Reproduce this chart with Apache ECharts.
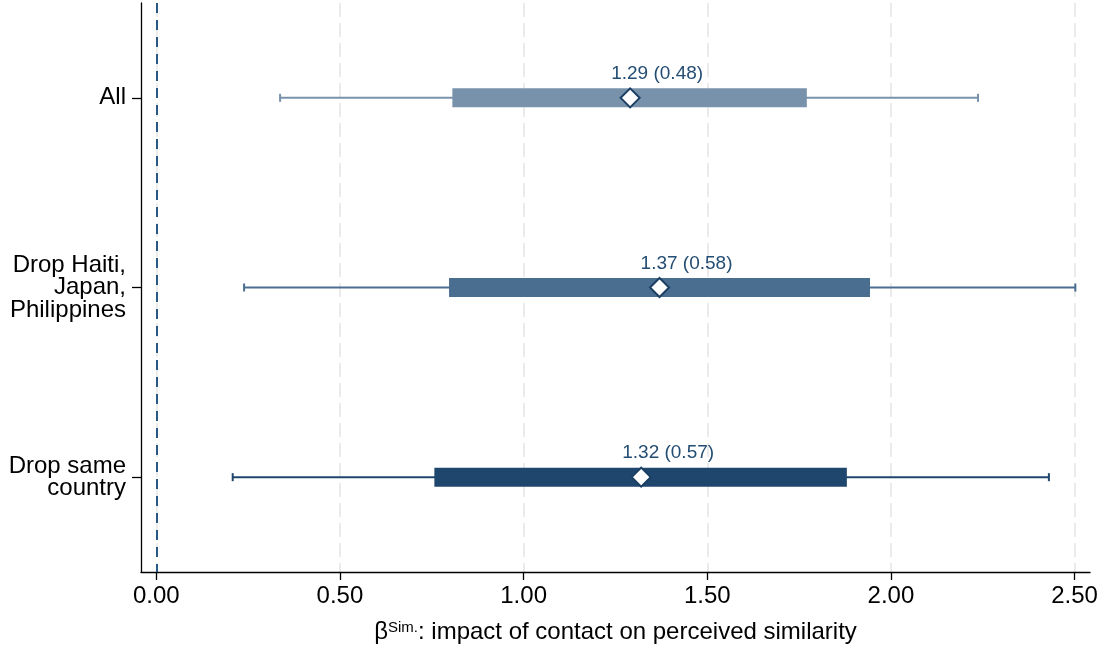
<!DOCTYPE html>
<html>
<head>
<meta charset="utf-8">
<script src="https://cdn.jsdelivr.net/npm/echarts@6/dist/echarts.min.js"></script>
<style>html,body{margin:0;padding:0;background:#fff}#chart{width:1105px;height:646px}</style>
</head>
<body>
<div id="chart"></div>
<script>
// ---- data ----
const categories = ['All', 'Drop Haiti,\nJapan,\nPhilippines', 'Drop same\ncountry'];
const estimates = [1.29, 1.37, 1.32];
const stdErrors = [0.48, 0.58, 0.57];
const boxLow = [0.806, 0.797, 0.757];
const boxHigh = [1.771, 1.943, 1.880];
const whiskerLow = [0.337, 0.239, 0.208];
const whiskerHigh = [2.237, 2.502, 2.430];
const referenceLine = [0];

// ---- styles ----
const rowColors = ['#7892ac', '#4a6e90', '#1f476e'];
const textColor = '#244d73';
const FONT = '"Liberation Sans", Arial, Helvetica, sans-serif';

const chart = echarts.init(document.getElementById('chart'));

const boxData = categories.map((c, i) => [whiskerLow[i], boxLow[i], boxHigh[i], whiskerHigh[i], i]);
const pointData = categories.map((c, i) => [estimates[i], i]);

function renderBox(params, api) {
  const i = api.value(4);
  const col = rowColors[i];
  const pWL = api.coord([api.value(0), i]);
  const pBL = api.coord([api.value(1), i]);
  const pBH = api.coord([api.value(2), i]);
  const pWH = api.coord([api.value(3), i]);
  const y = pWL[1];
  const h = 19, cap = 4;
  return {
    type: 'group',
    children: [
      { type: 'line', shape: { x1: pWL[0], y1: y, x2: pWH[0], y2: y }, style: { stroke: col, lineWidth: 2 } },
      { type: 'line', shape: { x1: pWL[0], y1: y - cap, x2: pWL[0], y2: y + cap }, style: { stroke: col, lineWidth: 2 } },
      { type: 'line', shape: { x1: pWH[0], y1: y - cap, x2: pWH[0], y2: y + cap }, style: { stroke: col, lineWidth: 2 } },
      { type: 'rect', shape: { x: pBL[0], y: y - h / 2, width: pBH[0] - pBL[0], height: h }, style: { fill: col } }
    ]
  };
}

const option = {
  animation: false,
  backgroundColor: '#fff',
  textStyle: { fontFamily: FONT },
  grid: [
    { left: 141, right: 15, top: 3, bottom: 74, containLabel: false, outerBoundsMode: 'none' },
    { left: 156.3, right: 30.4, top: 3, bottom: 74, containLabel: false, outerBoundsMode: 'none' }
  ],
  xAxis: [
    {
      gridIndex: 0, type: 'value', min: -0.042, max: 2.542,
      axisLine: { show: true, onZero: false, lineStyle: { color: '#000', width: 1.3 } },
      axisTick: { show: false }, axisLabel: { show: false }, splitLine: { show: false },
      name: '{b|β}{sup|Sim.}{b|: impact of contact on perceived similarity}',
      nameLocation: 'middle', nameGap: 48,
      nameTextStyle: {
        rich: {
          b: { fontSize: 24, color: '#000', fontFamily: FONT },
          sup: { fontSize: 15, color: '#000', fontFamily: FONT, padding: [0, 0, 10, 0] }
        }
      }
    },
    {
      gridIndex: 1, type: 'value', min: 0, max: 2.5, interval: 0.5,
      axisLine: { show: false, onZero: false },
      axisTick: { show: true, length: 8, lineStyle: { color: '#000', width: 1.3 } },
      axisLabel: { show: true, fontSize: 24, color: '#000', margin: 12, fontFamily: FONT,
        formatter: v => v.toFixed(2) },
      splitLine: { show: true, lineStyle: { color: '#ebebeb', width: 2, type: [14, 6] } }
    }
  ],
  yAxis: [
    {
      gridIndex: 0, type: 'category', data: categories, inverse: true,
      axisLine: { show: true, onZero: false, lineStyle: { color: '#000', width: 1.3 } },
      axisTick: { show: true, alignWithLabel: true, length: 9, lineStyle: { color: '#000', width: 1.3 } },
      axisLabel: { fontSize: 24, color: '#000', lineHeight: 22.5, margin: 15, fontFamily: FONT, align: 'right' },
      splitLine: { show: false }
    },
    {
      gridIndex: 1, type: 'category', data: categories, inverse: true,
      axisLine: { show: false, onZero: false }, axisTick: { show: false }, axisLabel: { show: false },
      splitLine: { show: false }
    }
  ],
  series: [
    {
      type: 'custom', xAxisIndex: 1, yAxisIndex: 1, renderItem: renderBox, data: boxData,
      encode: { x: 0, y: 4 }, z: 3
    },
    {
      type: 'scatter', xAxisIndex: 1, yAxisIndex: 1, data: pointData, z: 5,
      symbol: 'diamond', symbolSize: [19, 19],
      itemStyle: { color: '#fff', borderColor: '#1a3f63', borderWidth: 2, opacity: 1 },
      label: {
        show: true, position: 'top', distance: 4, offset: [27, 0], fontSize: 19, color: textColor, fontFamily: FONT,
        formatter: p => estimates[p.dataIndex].toFixed(2) + ' (' + stdErrors[p.dataIndex].toFixed(2) + ')'
      },
      markLine: {
        silent: true, symbol: 'none', label: { show: false }, z: 2,
        lineStyle: { color: '#2a5884', width: 2, type: [10, 7] },
        data: referenceLine.map(v => ({ xAxis: v }))
      }
    }
  ]
};
chart.setOption(option);
</script>
</body>
</html>
